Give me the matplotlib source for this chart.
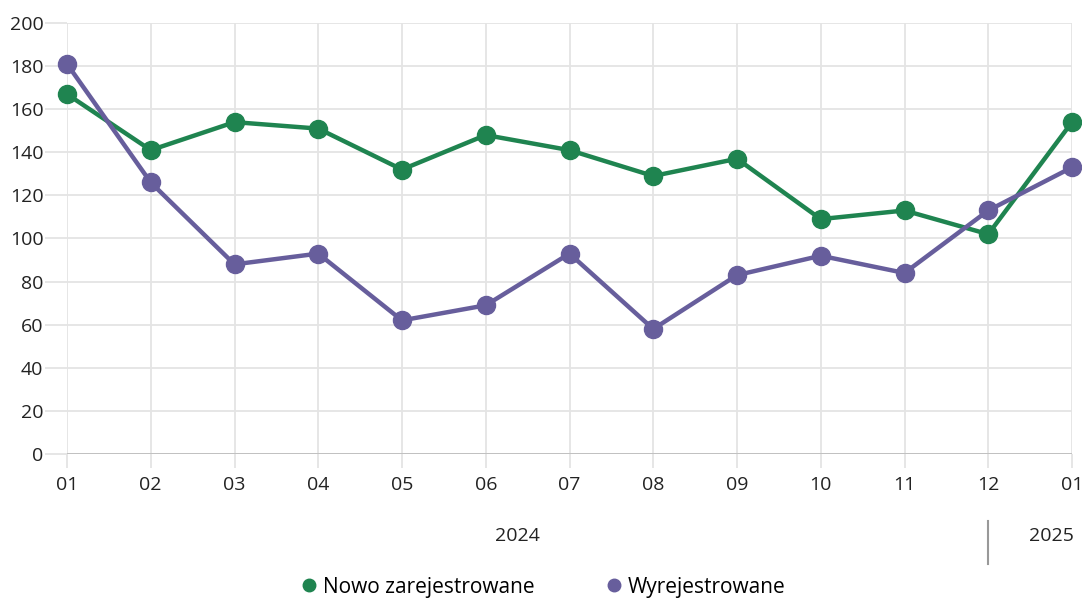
import matplotlib.pyplot as plt
from matplotlib.lines import Line2D

plt.rcParams['font.family'] = ['Open Sans', 'DejaVu Sans']

miesiace = ['01', '02', '03', '04', '05', '06', '07', '08', '09', '10', '11', '12', '01']
nowo = [167, 141, 154, 151, 132, 148, 141, 129, 137, 109, 113, 102, 154]
wyrejestrowane = [181, 126, 88, 93, 62, 69, 93, 58, 83, 92, 84, 113, 133]
lata = ['2024', '2025']

zielony = '#1f8450'
fiolet = '#675e9c'
siatka = '#e4e4e4'

fig = plt.figure(figsize=(10.82, 5.99), dpi=100)
ax = fig.add_axes([67 / 1082, 1 - 454 / 599, (1072 - 67) / 1082, (454 - 23) / 599])

x = list(range(len(miesiace)))
ax.plot(x, nowo, color=zielony, lw=3.2, marker='o', ms=13, zorder=4, clip_on=False)
ax.plot(x, wyrejestrowane, color=fiolet, lw=3.2, marker='o', ms=13, zorder=5, clip_on=False)

ax.set_xlim(0, 12)
ax.set_ylim(0, 200)
ax.set_xticks(x)
ax.set_xticklabels(miesiace)
ax.set_yticks(range(0, 201, 20))
ax.grid(True, color=siatka, lw=1.3, zorder=0)
ax.axhline(0, color='#bdbdbd', lw=2, zorder=2)
for s in ax.spines.values():
    s.set_visible(False)
ax.tick_params(axis='x', length=10, color=siatka, width=1.3, labelsize=14, pad=6)
ax.tick_params(axis='y', length=16, color=siatka, width=1.3, labelsize=14, pad=1)
for t in ax.get_xticklabels() + ax.get_yticklabels():
    t.set_color('#222222')

# etykiety lat
trans = ax.get_xaxis_transform()
ax.text(5.38, -0.19, lata[0], transform=trans, ha='center', va='center', fontsize=14, color='#222222')
ax.text(11.75, -0.19, lata[1], transform=trans, ha='center', va='center', fontsize=14, color='#222222')
ax.add_line(Line2D([11, 11], [-0.155, -0.255], transform=trans, color='#999999', lw=1.5, clip_on=False))

# legenda
uchwyty = [
    Line2D([], [], color=zielony, marker='o', ls='', ms=9),
    Line2D([], [], color=fiolet, marker='o', ls='', ms=9),
]
fig.legend(uchwyty, ['Nowo zarejestrowane', 'Wyrejestrowane'], loc='center',
           bbox_to_anchor=(0.5, 1 - 587 / 599), ncol=2, frameon=False, fontsize=15,
           handletextpad=0.05, columnspacing=3.2, handlelength=1.2)

fig.savefig('out.png', dpi=100)
